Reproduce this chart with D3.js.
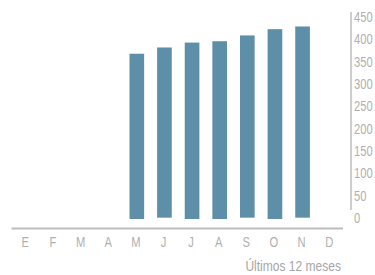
<!DOCTYPE html>
<meta charset="utf-8">
<style>
body { margin: 0; background: #fff; }
text {
  font-family: "Liberation Sans", Arial, sans-serif;
  fill: #b0b0b0;
}
</style>
<svg width="375" height="275"></svg>
<script src="https://d3js.org/d3.v7.min.js"></script>
<script>

var months = ["E","F","M","A","M","J","J","A","S","O","N","D"]
// values per month (null = no data)
var highs = [null,null,null,null,370,384,395,398,411,425,431,null]
var lows  = [null,null,null,null,0,3,0,0,3,0,3,null]
var yTicks = [0,50,100,150,200,250,300,350,400,450]
var xTitle = "Últimos 12 meses"

var svg = d3.select("svg")

var x = d3.scaleBand()
  .domain(d3.range(months.length))
  .range([11.5, 343])
  .paddingInner(0.47)
  .paddingOuter(0.235)

var y = d3.scaleLinear().domain([0, 450]).range([219, 18])

var data = months.map(function(m, i){ return {m: m, i: i, hi: highs[i], lo: lows[i]} })

svg.selectAll("rect.bar")
  .data(data.filter(function(d){ return d.hi != null }))
  .enter().append("rect")
  .attr("class", "bar")
  .attr("x", function(d){ return x(d.i) + 1 })
  .attr("width", x.bandwidth())
  .attr("y", function(d){ return y(d.hi) })
  .attr("height", function(d){ return y(d.lo) - y(d.hi) })
  .attr("fill", "#5d8fa8")

// baseline
svg.append("line")
  .attr("x1", 11.5).attr("x2", 343)
  .attr("y1", 228.5).attr("y2", 228.5)
  .attr("stroke", "#bdbdbd").attr("stroke-width", 2)

// condensed look: squeeze text horizontally
function squeeze(sx){
  return function(d){ return "scale(" + sx + ",1)" }
}

// month labels
svg.selectAll("g.month")
  .data(data)
  .enter().append("g")
  .attr("class", "month")
  .attr("transform", function(d){ return "translate(" + (x(d.i) + x.bandwidth() / 2) + ",242)" })
  .append("text")
  .attr("transform", squeeze(0.8))
  .attr("dy", "0.35em")
  .attr("text-anchor", "middle")
  .style("font-size", "14px")
  .text(function(d){ return d.m })

// y axis on the right
var yAxis = svg.append("g").attr("transform", "translate(351,0)")
yAxis.append("line")
  .attr("x1", 0).attr("x2", 0)
  .attr("y1", 12).attr("y2", 210)
  .attr("stroke", "#bdbdbd").attr("stroke-width", 1.5)

yAxis.selectAll("g.tick")
  .data(yTicks)
  .enter().append("g")
  .attr("class", "tick")
  .attr("transform", function(d){ return "translate(3," + (y(d) - 1) + ")" })
  .append("text")
  .attr("transform", squeeze(0.8))
  .attr("dy", "0.35em")
  .style("font-size", "14px")
  .text(function(d){ return d })

svg.append("g")
  .attr("transform", "translate(341,266)")
  .append("text")
  .attr("transform", squeeze(0.86))
  .attr("dy", "0.35em")
  .attr("text-anchor", "end")
  .style("font-size", "14px")
  .style("fill", "#a6a6a6")
  .text(xTitle)

</script>
